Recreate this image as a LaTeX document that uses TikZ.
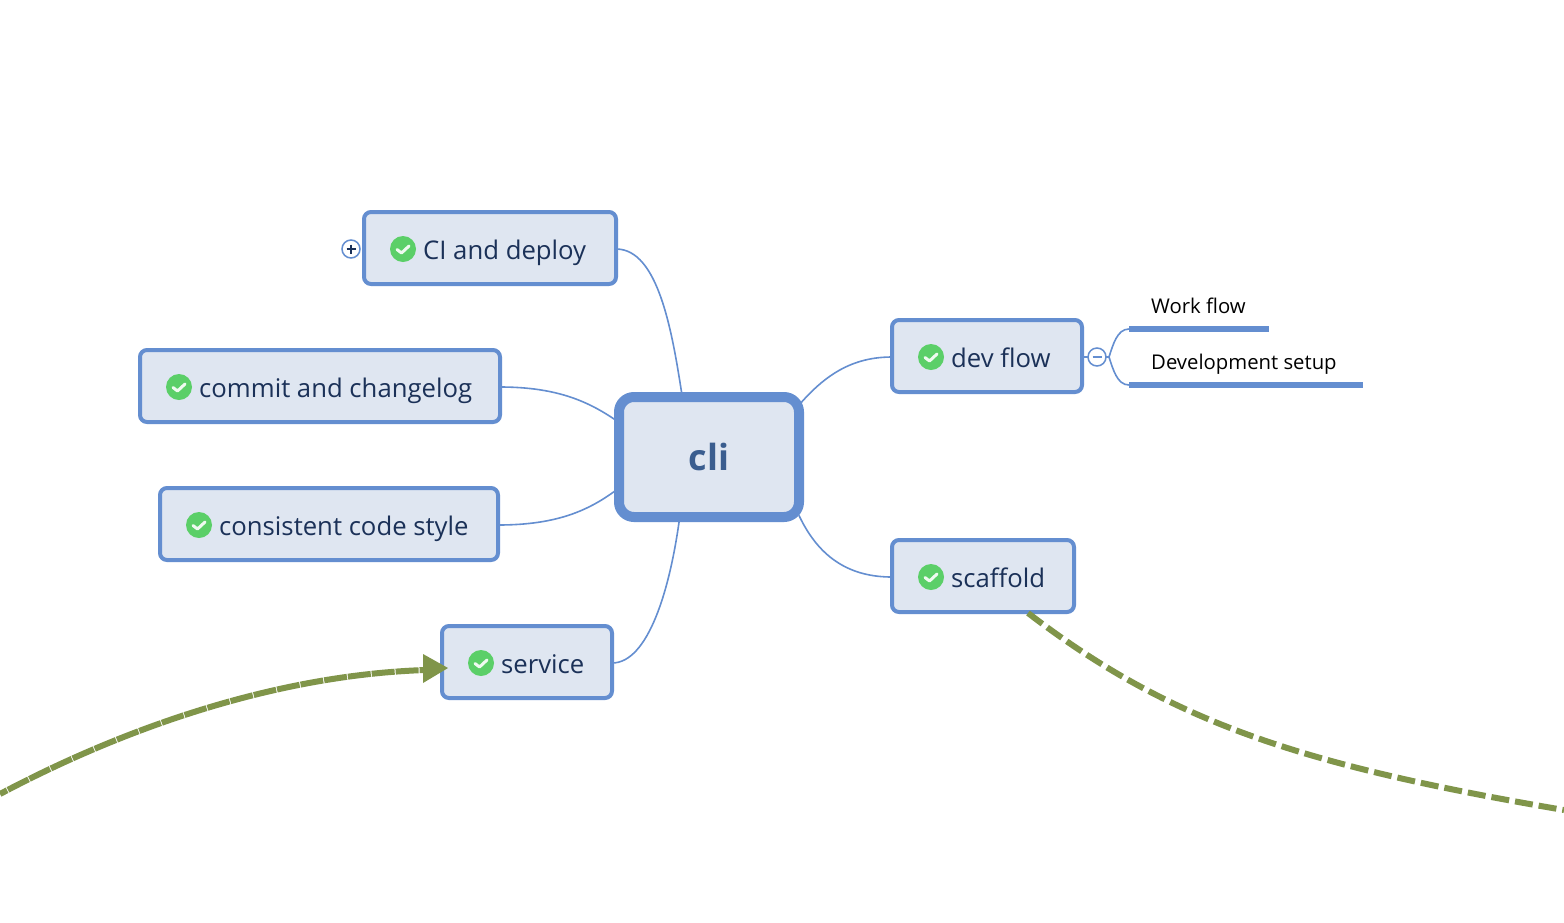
\documentclass[tikz,border=0pt]{standalone}
\usepackage{fontspec}
\setmainfont{Open Sans}[Ligatures=NoCommon]
\usetikzlibrary{calc,arrows.meta}
\definecolor{edge}{HTML}{648ED0}
\definecolor{boxfill}{HTML}{DFE6F1}
\definecolor{ink}{HTML}{1B3158}
\definecolor{rootink}{HTML}{3A5D8F}
\definecolor{okgreen}{HTML}{5BCF68}
\definecolor{olive}{HTML}{80954A}
\tikzset{
  topic/.style={draw=edge,fill=boxfill,line width=4pt,rounded corners=7pt,outer sep=0pt,inner sep=0pt,minimum height=72pt},
  root/.style={draw=edge,fill=boxfill,line width=10pt,rounded corners=15pt,outer sep=0pt,inner sep=0pt,minimum width=180pt,minimum height=120pt,text=rootink,font=\fontsize{36}{40}\selectfont\bfseries},
  topictext/.style={anchor=base west,inner sep=0pt,text=ink,font=\fontsize{25.7}{30}\selectfont},
  subtext/.style={anchor=base west,inner sep=0pt,text=black,font=\fontsize{20.3}{24}\selectfont},
  okicon/.style={circle,fill=okgreen,minimum size=26pt,inner sep=0pt,outer sep=0pt},
  tick/.style={draw=white!90!okgreen,line width=3pt,line cap=round,line join=round},
  link/.style={draw=edge,line width=1.6pt},
  under/.style={draw=edge,line width=6pt},
  fold/.style={circle,draw=edge,fill=white,line width=1.5pt,minimum size=18pt,inner sep=0pt,outer sep=0pt},
  relation/.style={draw=olive,line width=6pt}
}
\newcommand{\oktick}[1]{\draw[tick] ($(#1)+(-6,0.5)$) -- ($(#1)+(-1.5,4)$) -- ($(#1)+(6,-3)$);}
\begin{document}
\begin{tikzpicture}[x=1pt,y=-1pt]
\useasboundingbox (0,0) rectangle (1564,922);
\fill[white] (0,0) rectangle (1564,922);
% nodes
\node[root] (cli) at (709,457) {\raisebox{-1pt}{cli}};
\node[topic,minimum width=252pt] (ci) at (490,248) {};
\node[topic,minimum width=360pt] (commit) at (320,386) {};
\node[topic,minimum width=338pt] (style) at (329,524) {};
\node[topic,minimum width=170pt] (service) at (527,662) {};
\node[topic,minimum width=190pt] (dev) at (987,356) {};
\node[topic,minimum width=182pt] (scaffold) at (983,576) {};
% icons and labels
\node[okicon] (ici) at ($(ci.west)+(39,1)$) {}; \oktick{ici}
\node[okicon] (icommit) at ($(commit.west)+(39,1)$) {}; \oktick{icommit}
\node[okicon] (istyle) at ($(style.west)+(39,1)$) {}; \oktick{istyle}
\node[okicon] (iservice) at ($(service.west)+(39,1)$) {}; \oktick{iservice}
\node[okicon] (idev) at ($(dev.west)+(39,1)$) {}; \oktick{idev}
\node[okicon] (iscaffold) at ($(scaffold.west)+(39,1)$) {}; \oktick{iscaffold}
\node[topictext] (tci) at ($(ci.west)+(59,11)$) {CI and deploy};
\node[topictext] (tcommit) at ($(commit.west)+(59,11)$) {commit and changelog};
\node[topictext] (tstyle) at ($(style.west)+(59,11)$) {consistent code style};
\node[topictext] (tservice) at ($(service.west)+(59,11)$) {service};
\node[topictext] (tdev) at ($(dev.west)+(59,11)$) {dev flow};
\node[topictext] (tscaffold) at ($(scaffold.west)+(59,11)$) {scaffold};
% connectors to root
\draw[link] (ci.east) ++(0,1) .. controls +(42,0) and (672,330) .. (cli.114.5);
\draw[link] (commit.east) ++(0,1) .. controls +(58,0) and (590,402) .. (cli.159);
\draw[link] (style.east) ++(0,1) .. controls +(60,0) and (590,510) .. (cli.199.4);
\draw[link] (service.east) ++(0,1) .. controls +(36,0) and (670,590) .. (cli.244);
\draw[link] (dev.west) ++(0,1) .. controls +(-40,0) and (825,375) .. (cli.30);
\draw[link] (scaffold.west) ++(0,1) .. controls +(-40,0) and (820,560) .. (cli.-33);
% fold markers
\node[fold] (plus) at (351,249) {};
\draw[ink,line width=1.6pt] ($(plus)+(-4.5,0)$) -- ($(plus)+(4.5,0)$) ($(plus)+(0,-4.5)$) -- ($(plus)+(0,4.5)$);
\node[fold] (minus) at (1097,357) {};
\draw[edge,line width=1.6pt] ($(minus)+(-4.5,0)$) -- ($(minus)+(4.5,0)$);
\draw[link] (dev.east) ++(0,1) -- (minus.west);
% subtopics
\coordinate (wfa) at (1129,329); \coordinate (wfb) at (1269,329);
\coordinate (dsa) at (1129,385); \coordinate (dsb) at (1363,385);
\coordinate (branch) at (1109,357);
\draw[link] (minus.east) -- (branch);
\draw[link] (branch) .. controls (1113,345) and (1117,329) .. (wfa);
\draw[link] (branch) .. controls (1113,369) and (1117,385) .. (dsa);
\draw[under] (wfa) -- (wfb);
\draw[under] (dsa) -- (dsb);
\node[subtext] (wf) at (1151,313) {Work flow};
\node[subtext] (ds) at (1151,369) {Development setup};
% relations
\coordinate (relin) at (0,794);
\coordinate (relhead) at (425,670);
\coordinate (relout) at (1564,810);
\draw[relation,dash pattern=on 23pt off 1pt,dash phase=15pt] (relin) .. controls (130,725) and (280,675) .. (relhead);
\fill[olive] (448,668) -- (423,654) -- (423,683) -- cycle;
\draw[relation,dash pattern=on 18pt off 6pt] (scaffold.south) ++(45,1) .. controls (1170,722) and (1300,765) .. (relout);
\end{tikzpicture}
\end{document}
